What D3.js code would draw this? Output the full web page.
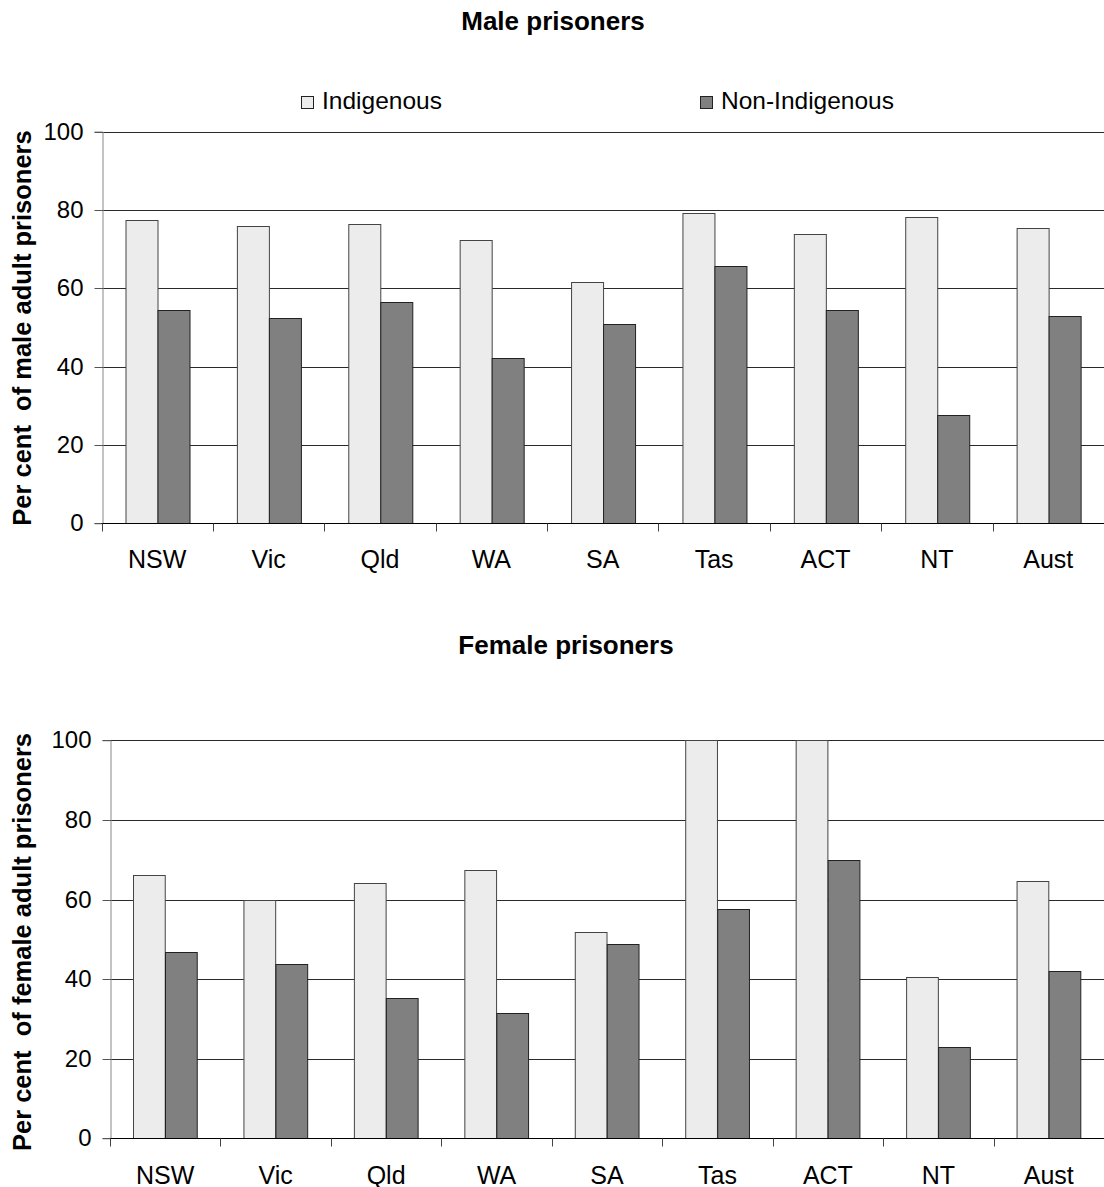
<!DOCTYPE html>
<html>
<head>
<meta charset="utf-8">
<script src="https://cdn.jsdelivr.net/npm/d3@7"></script>
<style>
  html, body { margin: 0; padding: 0; background: #fff; }
  svg { display: block; font-family: "Liberation Sans", Arial, sans-serif; }
  text { white-space: pre; }
</style>
</head>
<body>
<script>
const categories = ["NSW", "Vic", "Qld", "WA", "SA", "Tas", "ACT", "NT", "Aust"];
const seriesNames = ["Indigenous", "Non-Indigenous"];
const yTicks = [0, 20, 40, 60, 80, 100];
const maleIndigenous    = [77.4, 75.8, 76.3, 72.3, 61.5, 79.1, 73.8, 78.1, 75.3];
const maleNonIndigenous = [54.4, 52.3, 56.4, 42.1, 50.8, 65.6, 54.4, 27.6, 52.9];
const femaleIndigenous    = [66.2, 60.0, 64.2, 67.3, 51.8, 100, 100, 40.6, 64.7];
const femaleNonIndigenous = [46.7, 43.7, 35.2, 31.6, 48.7, 57.7, 69.8, 23.0, 42.0];
const fills = ["#ececec", "#808080"];

const W = 1104, H = 1187;
const svg = d3.select("body").append("svg").attr("width", W).attr("height", H);

function panel(opt) {
  const g = svg.append("g");
  const x = d3.scaleBand().domain(categories).range([opt.left, opt.right]).paddingInner(0).paddingOuter(0);
  const y = d3.scaleLinear().domain([0, 100]).range([opt.bottom, opt.top]);
  const x1 = d3.scaleBand().domain(seriesNames).range([0, x.bandwidth()]).paddingInner(0).paddingOuter(0.74);

  // title
  g.append("text").attr("x", opt.titleX).attr("y", opt.titleY)
    .attr("text-anchor", "middle").attr("font-weight", "bold").attr("font-size", 26)
    .text(opt.title);

  // y axis title
  g.append("text")
    .attr("transform", `translate(${opt.yTitleX},${opt.yTitleY}) rotate(-90)`)
    .attr("text-anchor", "middle").attr("font-weight", "bold").attr("font-size", 25.5)
    .attr("xml:space", "preserve")
    .text(opt.yTitle);

  // gridlines
  g.append("g").selectAll("line").data(yTicks.filter(d => d > 0)).join("line")
    .attr("x1", opt.left).attr("x2", opt.right)
    .attr("y1", d => Math.round(y(d)) + 0.5).attr("y2", d => Math.round(y(d)) + 0.5)
    .attr("stroke", "#2a2a2a").attr("stroke-width", 1.1);

  // y axis
  const ya = g.append("g").attr("transform", `translate(${Math.round(opt.left) + 0.5},0)`)
    .call(d3.axisLeft(y).tickValues(yTicks).tickSize(8).tickPadding(11).tickFormat(d3.format("d")));
  ya.select(".domain").attr("stroke", "#888");
  ya.selectAll(".tick line").attr("stroke", "#555");
  ya.selectAll(".tick").attr("transform", d => `translate(0,${Math.round(y(d)) + 0.5})`);
  ya.selectAll("text").attr("font-size", 24).attr("fill", "#000").attr("font-family", "Liberation Sans, Arial, sans-serif");

  // bars
  const data = categories.map((c, i) => ({ c, vals: [opt.s1[i], opt.s2[i]] }));
  const grp = g.append("g").selectAll("g").data(data).join("g")
    .attr("transform", d => `translate(${x(d.c)},0)`);
  grp.selectAll("rect").data(d => d.vals.map((v, j) => ({ v, s: seriesNames[j], j }))).join("rect")
    .attr("x", d => Math.round(x1(d.s)) + 0.5)
    .attr("width", x1.bandwidth())
    .attr("y", d => Math.round(y(d.v)) + 0.5)
    .attr("height", d => Math.round(y(0)) - Math.round(y(d.v)))
    .attr("fill", d => fills[d.j])
    .attr("stroke", d => d.j === 0 ? "#444" : "#222")
    .attr("stroke-width", 1);

  // x axis line and boundary ticks
  const y0 = Math.round(y(0)) + 0.5;
  g.append("line").attr("x1", opt.left).attr("x2", opt.right).attr("y1", y0).attr("y2", y0)
    .attr("stroke", "#000");
  const bounds = categories.map(c => x(c));
  g.append("g").selectAll("line").data(bounds).join("line")
    .attr("x1", d => Math.round(d) + 0.5).attr("x2", d => Math.round(d) + 0.5)
    .attr("y1", y0).attr("y2", y0 + 8).attr("stroke", "#444");

  // x labels
  const xa = g.append("g").attr("transform", `translate(0,${y0})`)
    .call(d3.axisBottom(x).tickSize(0).tickPadding(0));
  xa.select(".domain").remove();
  xa.selectAll("text").attr("font-size", 25).attr("fill", "#000")
    .attr("dy", null).attr("y", opt.labelOffset)
    .attr("font-family", "Liberation Sans, Arial, sans-serif");
  return { x, y };
}

panel({
  left: 101.5, right: 1104, top: 131.5, bottom: 523.3,
  title: "Male prisoners", titleX: 553, titleY: 30,
  yTitle: "Per cent  of male adult prisoners", yTitleX: 31, yTitleY: 328,
  s1: maleIndigenous, s2: maleNonIndigenous, labelOffset: 44
});

panel({
  left: 110, right: 1104, top: 740.3, bottom: 1138.3,
  title: "Female prisoners", titleX: 566, titleY: 654,
  yTitle: "Per cent  of female adult prisoners", yTitleX: 31, yTitleY: 942,
  s1: femaleIndigenous, s2: femaleNonIndigenous, labelOffset: 45
});

// legend
const legend = svg.append("g");
const legendX = [301.5, 700.5];
const legendTextX = [322, 721];
seriesNames.forEach((name, i) => {
  legend.append("rect").attr("x", legendX[i]).attr("y", 96.5).attr("width", 12).attr("height", 12)
    .attr("fill", fills[i]).attr("stroke", "#222").attr("stroke-width", 1);
  legend.append("text").attr("x", legendTextX[i]).attr("y", 108.5).attr("font-size", 24.5)
    .text(name);
});
</script>
</body>
</html>
